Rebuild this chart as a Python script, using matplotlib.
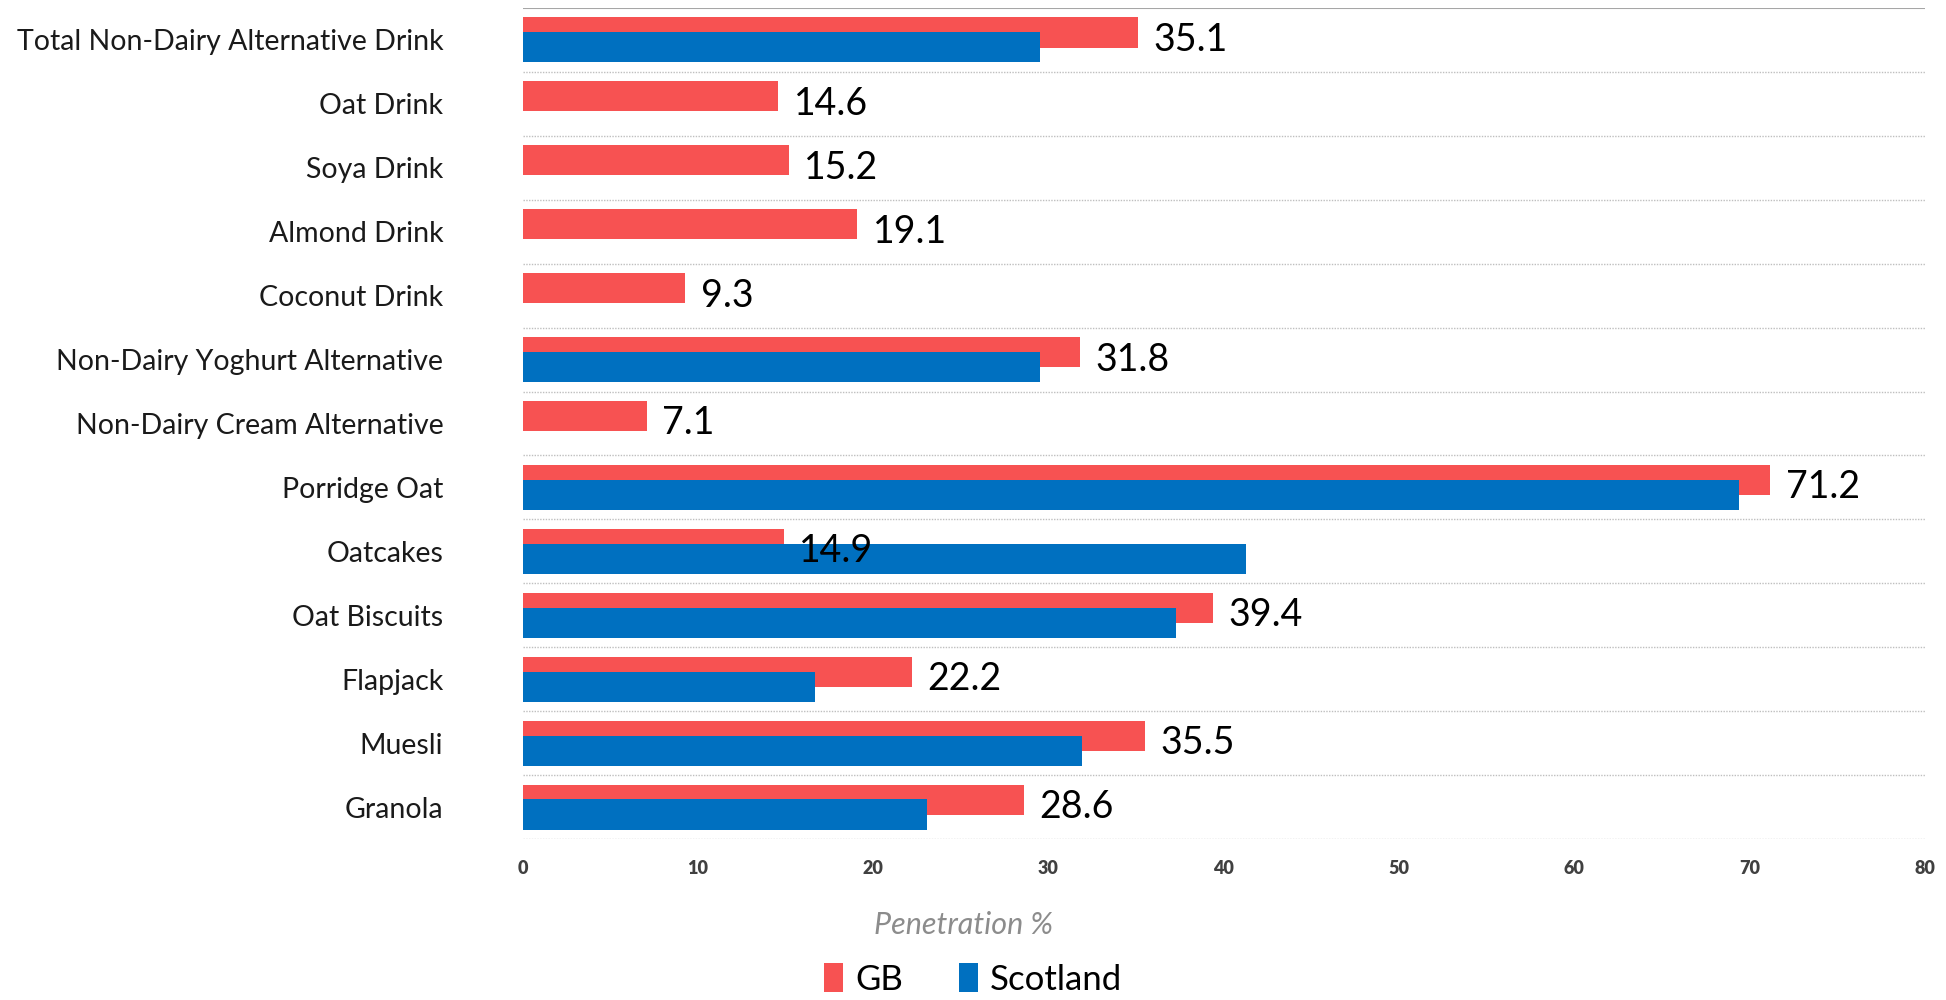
import matplotlib.pyplot as plt
import numpy as np

#### chart data
categories = ["Total Non-Dairy Alternative Drink", "Oat Drink", "Soya Drink", "Almond Drink",
              "Coconut Drink", "Non-Dairy Yoghurt Alternative", "Non-Dairy Cream Alternative",
              "Porridge Oat", "Oatcakes", "Oat Biscuits", "Flapjack", "Muesli", "Granola"]
gb_values = [35.1, 14.6, 15.2, 19.1, 9.3, 31.8, 7.1, 71.2, 14.9, 39.4, 22.2, 35.5, 28.6]
scotland_values = [29.5, None, None, None, None, 29.5, None, 69.4, 41.3, 37.3, 16.7, 31.9, 23.1]
x_ticks = [0, 10, 20, 30, 40, 50, 60, 70, 80]

gb_colour = '#F75252'
scot_colour = '#0070C0'

plt.rcParams['font.family'] = ['Lato', 'DejaVu Sans']

fig = plt.figure(figsize=(19.46, 10), dpi=100)
ax = fig.add_axes([0.2685, 0.161, 0.7205, 0.831])

pos = np.arange(len(categories))
bar_h = 0.47
off = 0.117

#### GB bars first, Scotland drawn over them
ax.barh(pos - off, gb_values, height=bar_h, color=gb_colour, label='GB', zorder=2)
scot_pos = [p + off for p, v in zip(pos, scotland_values) if v is not None]
scot_vals = [v for v in scotland_values if v is not None]
ax.barh(scot_pos, scot_vals, height=bar_h, color=scot_colour, label='Scotland', zorder=3)

#### value labels for GB only, at the category centre
for p, v in zip(pos, gb_values):
    ax.annotate('{:.1f}'.format(v), xy=(v, p), xytext=(11, 0), textcoords='offset points',
                va='center', ha='left', fontsize=27, color='black', zorder=4)

#### separator lines
ax.axhline(-0.5, color='#a6a6a6', lw=1.5, zorder=1)
for k in range(len(categories)):
    ax.axhline(k + 0.5, color='#bfbfbf', lw=1, ls=(0, (1, 1)), zorder=1)

ax.set_xlim(0, 80)
ax.set_ylim(len(categories) - 0.5, -0.5)
ax.set_xticks(x_ticks)
ax.set_xticklabels([str(t) for t in x_ticks], fontsize=13, fontweight='heavy', color='#404040')
ax.set_yticks(pos)
ax.set_yticklabels(categories, fontsize=20.5, color='#1a1a1a')
ax.tick_params(axis='x', length=0, pad=15)
ax.tick_params(axis='y', length=0, pad=57)
for s in ax.spines.values():
    s.set_visible(False)

fig.text(0.495, 0.075, 'Penetration %', ha='center', va='center', fontsize=22,
         style='italic', color='#8c8c8c')

fig.legend(loc='lower center', bbox_to_anchor=(0.5, -0.027), ncol=2, frameon=False,
           fontsize=25, handlelength=0.55, handleheight=0.9, handletextpad=0.35,
           columnspacing=1.6)

fig.savefig('out.png', dpi=100)
